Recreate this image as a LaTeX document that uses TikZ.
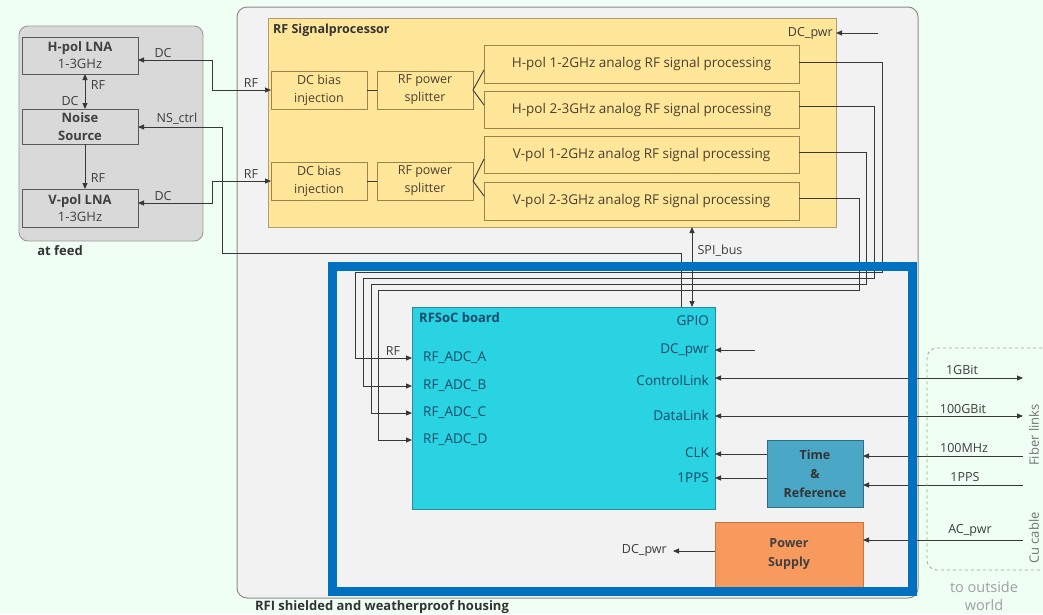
\documentclass[tikz,border=0pt]{standalone}
\usepackage{fontspec}
\setmainfont{Open Sans}
\usetikzlibrary{arrows.meta,fit,calc}
\definecolor{bgc}{HTML}{F0FFF4}
\definecolor{feedf}{HTML}{D9D9D9}
\definecolor{feedb}{HTML}{9A9A9A}
\definecolor{housef}{HTML}{F2F2F2}
\definecolor{houseb}{HTML}{8C8C8C}
\definecolor{yelf}{HTML}{FFE699}
\definecolor{yelb}{HTML}{9C844C}
\definecolor{yeltxt}{HTML}{4A4030}
\definecolor{boardf}{HTML}{29D3E2}
\definecolor{boardb}{HTML}{2A8A98}
\definecolor{boardtxt}{HTML}{17496B}
\definecolor{trf}{HTML}{4AA8C6}
\definecolor{trb}{HTML}{2E6F80}
\definecolor{psf}{HTML}{F89A5E}
\definecolor{psb}{HTML}{C07840}
\definecolor{framec}{HTML}{0070C0}
\definecolor{wirec}{HTML}{383838}
\definecolor{lblc}{HTML}{3C3C3C}
\definecolor{outc}{HTML}{A0A0A0}
\begin{document}
\begin{tikzpicture}[x=1pt,y=-1pt,
  font=\fontsize{13}{15}\selectfont,
  box/.style={draw, inner sep=0pt, outer sep=0pt, align=center},
  lbl/.style={text=lblc, font=\fontsize{12.5}{14}\selectfont, inner sep=0pt},
  wire/.style={draw=wirec, line width=0.9pt},
  tip/.style={-{Triangle[length=6pt,width=5pt]}},
  bitip/.style={{Triangle[length=6pt,width=5pt]}-{Triangle[length=6pt,width=5pt]}},
  ybox/.style={box, fill=yelf, draw=yelb, line width=0.9pt, text=yeltxt,
    font=\fontsize{13}{18}\selectfont},
  lnabox/.style={box, fill=feedf, draw=black!65, line width=0.8pt, text=black!75,
    font=\fontsize{13}{18}\selectfont},
  blbl/.style={text=boardtxt, font=\fontsize{13.5}{15}\selectfont, inner sep=0pt}
]
\useasboundingbox[fill=bgc] (0,0) rectangle (1043,614);

% ---------- containers ----------
\node[fit={(19,26) (203,241)}, box, fill=feedf, draw=feedb, rounded corners=9pt, line width=0.9pt] (feed) {};
\node[font=\bfseries\fontsize{13}{15}\selectfont, text=black!80] (feedlbl) at (60,251) {at feed};

\node[fit={(237,7) (918,598)}, box, fill=housef, draw=houseb, rounded corners=10pt, line width=1pt] (house) {};
\node[font=\bfseries\fontsize{13}{15}\selectfont, text=black!80] (houselbl) at (382,607) {RFI shielded and weatherproof housing};

\node[fit={(268,18) (836,227)}, box, fill=yelf, draw=yelb!80, line width=0.9pt] (rfsp) {};
\node[anchor=west, font=\bfseries\fontsize{12.5}{15}\selectfont, text=black!80, inner sep=0pt] (rfsplbl) at (273,30) {RF Signalprocessor};

% ---------- feed boxes ----------
\node[fit={(22,37) (138,74)}, lnabox] (hlna) {};
\node[text=black!75, align=center, font=\fontsize{13}{17}\selectfont] (hlnat) at (hlna.center) {\textbf{H-pol LNA}\\1-3GHz};
\node[fit={(22,109) (138,144)}, lnabox] (ns) {};
\node[text=black!75, align=center, font=\bfseries\fontsize{13}{18}\selectfont] (nst) at (ns.center) {Noise\\Source};
\node[fit={(22,189) (138,227)}, lnabox] (vlna) {};
\node[text=black!75, align=center, font=\fontsize{13}{17}\selectfont] (vlnat) at (vlna.center) {\textbf{V-pol LNA}\\1-3GHz};

% ---------- RF signal processor boxes ----------
\node[fit={(271,71) (367,109)}, ybox] (dcb1) {};
\node[text=yeltxt, align=center, font=\fontsize{12.5}{18}\selectfont] at (dcb1.center) {DC bias\\injection};
\node[fit={(377,71) (473,109)}, ybox] (spl1) {};
\node[text=yeltxt, align=center, font=\fontsize{12.5}{18}\selectfont] at (spl1.center) {RF power\\splitter};
\node[fit={(271,162) (367,200)}, ybox] (dcb2) {};
\node[text=yeltxt, align=center, font=\fontsize{12.5}{18}\selectfont] at (dcb2.center) {DC bias\\injection};
\node[fit={(377,162) (473,200)}, ybox] (spl2) {};
\node[text=yeltxt, align=center, font=\fontsize{12.5}{18}\selectfont] at (spl2.center) {RF power\\splitter};

\node[fit={(484,45) (799,83)}, ybox] (h12) {};
\node[text=yeltxt, font=\fontsize{13.5}{16}\selectfont] at (h12.center) {H-pol 1-2GHz analog RF signal processing};
\node[fit={(484,91) (799,128)}, ybox] (h23) {};
\node[text=yeltxt, font=\fontsize{13.5}{16}\selectfont] at (h23.center) {H-pol 2-3GHz analog RF signal processing};
\node[fit={(484,136) (799,173)}, ybox] (v12) {};
\node[text=yeltxt, font=\fontsize{13.5}{16}\selectfont] at (v12.center) {V-pol 1-2GHz analog RF signal processing};
\node[fit={(484,182) (799,220)}, ybox] (v23) {};
\node[text=yeltxt, font=\fontsize{13.5}{16}\selectfont] at (v23.center) {V-pol 2-3GHz analog RF signal processing};

\node[lbl, anchor=east] (dcpwr1) at (833,33) {DC\_pwr};
\coordinate (dcpwr1src) at (878,33);

% ---------- board and other boxes ----------
\node[fit={(412,307) (715,509)}, box, fill=boardf, draw=boardb, line width=0.9pt] (board) {};
\node[anchor=west, text=boardtxt, font=\bfseries\fontsize{13}{15}\selectfont, inner sep=0pt] (boardlbl) at (419,318) {RFSoC board};
\node[blbl, anchor=west] (adcA) at (423,358) {RF\_ADC\_A};
\node[blbl, anchor=west] (adcB) at (423,386) {RF\_ADC\_B};
\node[blbl, anchor=west] (adcC) at (423,413) {RF\_ADC\_C};
\node[blbl, anchor=west] (adcD) at (423,440) {RF\_ADC\_D};
\node[blbl, anchor=east] (gpio) at (709,321) {GPIO};
\node[blbl, anchor=east] (bdc) at (709,350) {DC\_pwr};
\node[blbl, anchor=east] (ctl) at (709,380) {ControlLink};
\node[blbl, anchor=east] (dat) at (709,415) {DataLink};
\node[blbl, anchor=east] (clk) at (709,453) {CLK};
\node[blbl, anchor=east] (pps) at (709,478) {1PPS};

\node[fit={(767,440) (863,507)}, box, fill=trf, draw=trb, line width=0.9pt] (tr) {};
\node[text=black!80, align=center, font=\bfseries\fontsize{12.5}{19}\selectfont] at (tr.center) {Time\\\&\\Reference};
\node[fit={(715,522) (863,592)}, box, fill=psf, draw=psb, line width=0.8pt] (ps) {};
\node[text=black!75, align=center, font=\bfseries\fontsize{12.5}{19}\selectfont] at (715+74,554) {Power\\Supply};

% ---------- wires in feed ----------
\draw[wire, bitip] (hlna.south -| 85,0) -- (ns.north -| 85,0);
\node[lbl] at (98,85) {RF};
\node[lbl] at (70,101) {DC};
\draw[wire, tip] (ns.south -| 85,0) -- (vlna.north -| 85,0);
\node[lbl] at (98,178) {RF};

% LNA <-> DC bias
\draw[wire, bitip] (hlna.east |- 0,60) -- (212,60) -- (212,90) -- (dcb1.west);
\node[lbl] at (163,53) {DC};
\node[lbl] at (251,83) {RF};
\draw[wire, bitip] (vlna.east |- 0,203) -- (212,203) -- (212,181) -- (dcb2.west);
\node[lbl] at (163,196) {DC};
\node[lbl] at (251,174) {RF};

% NS_ctrl
\draw[wire, tip] (board.north -| 681,0) -- (681,253) -- (222,253) -- (222,127) -- (ns.east |- 0,127);
\node[lbl] at (177,119) {NS\_ctrl};

% inside RF SP
\draw[wire] (dcb1) -- (spl1);
\draw[wire] (dcb2) -- (spl2);
\draw[wire] (spl1.east) -- (h12.west |- 0,70);
\draw[wire] (spl1.east) -- (h23.west |- 0,105);
\draw[wire] (spl2.east) -- (v12.west |- 0,159);
\draw[wire] (spl2.east) -- (v23.west |- 0,196);

% outputs to ADCs
\draw[wire, tip] (h12.east |- 0,62) -- (882,62) -- (882,272) -- (355,272) -- (355,358) -- (board.west |- adcA);
\draw[wire, tip] (h23.east |- 0,106) -- (874,106) -- (874,278) -- (363,278) -- (363,386) -- (board.west |- adcB);
\draw[wire, tip] (v12.east |- 0,152) -- (866,152) -- (866,284) -- (371,284) -- (371,413) -- (board.west |- adcC);
\draw[wire, tip] (v23.east |- 0,198) -- (859,198) -- (859,290) -- (378,290) -- (378,440) -- (board.west |- adcD);
\node[lbl] at (393,351) {RF};

% SPI bus
\draw[wire, bitip] (rfsp.south -| 692,0) -- (board.north -| 692,0);
\node[lbl] at (720,251) {SPI\_bus};

% DC_pwr to RF SP
\draw[wire, tip] (dcpwr1src) -- (rfsp.east |- dcpwr1src);

% board right side
\coordinate (bdcsrc) at (755,350);
\draw[wire, tip] (bdcsrc) -- (board.east |- bdcsrc);
\coordinate (ctlout) at (1023,378);
\coordinate (datout) at (1023,416);
\draw[wire, bitip] (board.east |- ctlout) -- (ctlout);
\draw[wire, bitip] (board.east |- datout) -- (datout);
\node[lbl] at (962,370) {1GBit};
\node[lbl] at (963,409) {100GBit};
\draw[wire, tip] (tr.west |- 0,454) -- (board.east |- 0,454);
\draw[wire, tip] (tr.west |- 0,478) -- (board.east |- 0,478);
\coordinate (mhzin) at (1023,456);
\coordinate (ppsin) at (1023,485);
\coordinate (acin) at (1023,540);
\draw[wire, tip] (mhzin) -- (tr.east |- mhzin);
\draw[wire, tip] (ppsin) -- (tr.east |- ppsin);
\draw[wire, tip] (acin) -- (ps.east |- acin);
\node[lbl] at (964,448) {100MHz};
\node[lbl] at (965,477) {1PPS};
\node[lbl] at (970,530) {AC\_pwr};
\coordinate (dcout) at (673,551);
\draw[wire, tip] (ps.west |- dcout) -- (dcout);
\node[lbl, anchor=east] at (667,550) {DC\_pwr};

% ---------- blue frame ----------
\node[fit={(332.5,266.5) (912.5,591.5)}, inner sep=0pt, outer sep=0pt, draw=framec, line width=9pt] (frame) {};

% ---------- outside world ----------
\draw[draw=outc, dashed, line width=0.8pt, rounded corners=10pt] (1060,348) -- (927,348) -- (927,570) -- (1060,570);
\node[text=outc, font=\fontsize{14.5}{17}\selectfont] at (984,587) {to outside};
\node[text=outc, font=\fontsize{14.5}{17}\selectfont] at (984,605) {world};
\node[text=black!55, rotate=90, font=\fontsize{13}{15}\selectfont] at (1034,435) {Fiber links};
\node[text=black!55, rotate=90, font=\fontsize{13}{15}\selectfont] at (1034,538) {Cu cable};
\end{tikzpicture}
\end{document}
